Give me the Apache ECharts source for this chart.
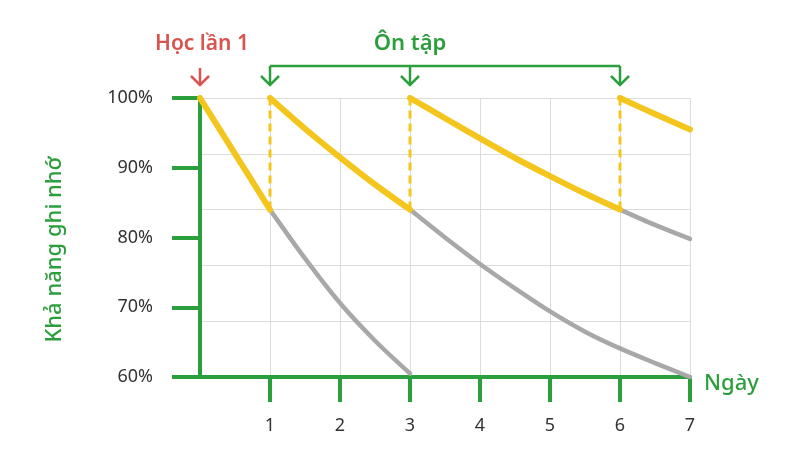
<!DOCTYPE html>
<html><head><meta charset="utf-8">
<script src="https://cdn.jsdelivr.net/npm/echarts@6/dist/echarts.min.js"></script>
<style>html,body{margin:0;padding:0;background:#fff}#c{width:800px;height:466px}</style>
</head><body><div id="c"></div>
<script>
// ---- data ----
const xTicks = [1, 2, 3, 4, 5, 6, 7];
const firstStudy = [[0, 100], [0.5, 92], [1, 84]];
const review1 = [[1, 100], [1.5, 95.6], [2, 91.5], [2.5, 87.6], [3, 84]];
const review2 = [[3, 100], [3.5, 97.1], [4, 94.2], [4.5, 91.4], [5, 88.8], [5.5, 86.3], [6, 84]];
const review3 = [[6, 100], [6.5, 97.7], [7, 95.5]];
const forget1 = [[1, 84], [1.5, 77.0], [2, 70.6], [2.5, 65.2], [3, 60.5]];
const forget2 = [[3, 84], [3.5, 80], [4, 76.2], [4.5, 72.7], [5, 69.4], [5.5, 66.5], [6, 64.1], [6.5, 62], [7, 60]];
const forget3 = [[6, 84], [6.5, 81.8], [7, 79.8]];
const studyDay = 0;
const reviewDays = [1, 3, 6];
const studyLabel = 'Học lần 1';
const reviewLabel = 'Ôn tập';
const xName = 'Ngày';
const yName = 'Khả năng ghi nhớ';

// ---- styles ----
const GREEN = '#2c9f3d', YELLOW = '#f4c51c', GRAY = '#a8a8a8', RED = '#d9534f', GRID = '#dcdcdc';
const FONT = "'Noto Sans', sans-serif";

const yellowSegs = [firstStudy, review1, review2, review3];
const graySegs = [forget1, forget2, forget3];
const jumps = reviewDays.map((d, i) => [yellowSegs[i][yellowSegs[i].length - 1], yellowSegs[i + 1][0]]);

const series = [];
graySegs.forEach(s => series.push({type: 'line', data: s, smooth: 0.3, showSymbol: false, z: 2,
  lineStyle: {color: GRAY, width: 4.5, cap: 'round'}}));
jumps.forEach(s => series.push({type: 'line', data: s, showSymbol: false, z: 3,
  lineStyle: {color: YELLOW, width: 3, type: [8, 5]}}));
yellowSegs.forEach(s => series.push({type: 'line', data: s, smooth: 0.3, showSymbol: false, z: 4,
  lineStyle: {color: YELLOW, width: 6, cap: 'round', join: 'round'}}));

const chart = echarts.init(document.getElementById('c'));
chart.setOption({
  animation: false,
  textStyle: {fontFamily: FONT},
  grid: {left: 200, right: 110, top: 98, bottom: 89},
  xAxis: {
    type: 'value', min: 0, max: 7, interval: 1,
    axisLine: {lineStyle: {color: GREEN, width: 4}},
    axisTick: {show: true, length: 25, customValues: xTicks, lineStyle: {color: GREEN, width: 4}},
    axisLabel: {customValues: xTicks, margin: 40, fontSize: 18, color: '#333', fontFamily: FONT},
    splitLine: {show: true, lineStyle: {color: GRID, width: 1}}
  },
  yAxis: [{
    type: 'value', min: 60, max: 100, interval: 10,
    axisLine: {show: true, lineStyle: {color: GREEN, width: 4}},
    axisTick: {show: true, length: 28, lineStyle: {color: GREEN, width: 4}},
    axisLabel: {formatter: '{value}%', margin: 47, fontSize: 18, color: '#333', fontFamily: FONT},
    splitLine: {show: false}
  }, {
    type: 'value', min: 60, max: 100, interval: 8, position: 'left',
    axisLine: {show: false}, axisTick: {show: false}, axisLabel: {show: false},
    splitLine: {show: true, lineStyle: {color: GRID, width: 1}}
  }],
  series: series
});

// ---- annotations positioned through the axes ----
function px(d, v) { return chart.convertToPixel({xAxisIndex: 0, yAxisIndex: 0}, [d, v]); }
const topY = px(0, 100)[1];
const tipY = topY - 13, barY = topY - 32, textY = topY - 54;
const g = [];
function arrow(x, y0, color) {
  g.push({type: 'line', shape: {x1: x, y1: y0, x2: x, y2: tipY}, style: {stroke: color, lineWidth: 2.5}, z: 10});
  g.push({type: 'polyline', shape: {points: [[x - 9, tipY - 9], [x, tipY], [x + 9, tipY - 9]]},
    style: {stroke: color, lineWidth: 2.5, fill: null}, z: 10});
}
const sx = px(studyDay, 100)[0];
arrow(sx, barY + 2, RED);
g.push({type: 'text', x: sx + 2, y: textY, style: {text: studyLabel, fill: RED, font: '600 21px ' + FONT, align: 'center', verticalAlign: 'middle'}, z: 10});
const rx = reviewDays.map(d => px(d, 100)[0]);
g.push({type: 'line', shape: {x1: rx[0], y1: barY, x2: rx[rx.length - 1], y2: barY}, style: {stroke: GREEN, lineWidth: 2.5}, z: 10});
rx.forEach(x => arrow(x, barY, GREEN));
const midX = px(3, 100)[0];
g.push({type: 'text', x: midX, y: textY, style: {text: reviewLabel, fill: GREEN, font: '600 22px ' + FONT, align: 'center', verticalAlign: 'middle'}, z: 10});
// axis names
const end = px(7, 60);
g.push({type: 'text', x: end[0] + 14, y: end[1] + 7, style: {text: xName, fill: GREEN, font: '500 22px ' + FONT, align: 'left', verticalAlign: 'middle'}, z: 10});
const mid = px(0, 80);
g.push({type: 'text', x: 55, y: mid[1] + 12, rotation: Math.PI / 2, style: {text: yName, fill: GREEN, font: '500 22px ' + FONT, align: 'center', verticalAlign: 'middle'}, z: 10});
chart.setOption({graphic: g});
</script></body></html>
